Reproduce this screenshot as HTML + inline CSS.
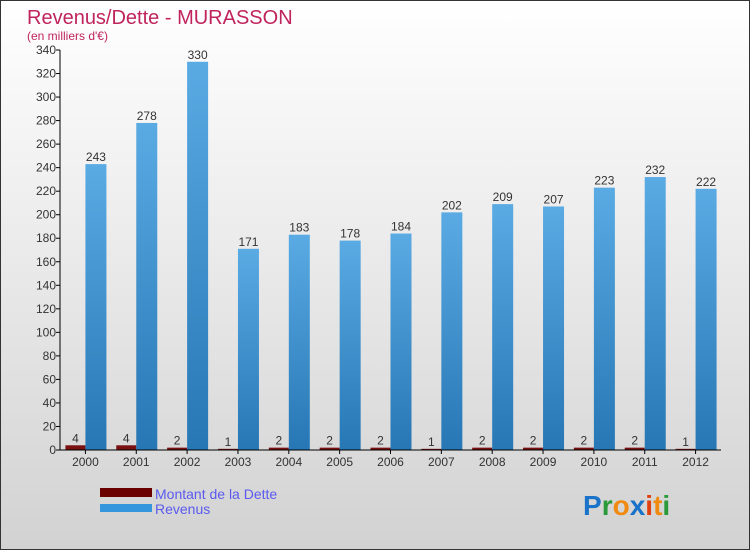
<!DOCTYPE html>
<html><head><meta charset="utf-8"><style>
body{margin:0;width:750px;height:550px;overflow:hidden;font-family:"Liberation Sans",sans-serif}
</style></head><body>
<svg width="750" height="550" xmlns="http://www.w3.org/2000/svg">
<defs>
<linearGradient id="bg" x1="0" y1="0" x2="0" y2="1"><stop offset="0" stop-color="#ffffff"/><stop offset="1" stop-color="#d2d2d2"/></linearGradient>
<linearGradient id="rev" x1="0" y1="0" x2="0" y2="1"><stop offset="0" stop-color="#5aaae4"/><stop offset="1" stop-color="#2677b4"/></linearGradient>
</defs>
<rect x="0.5" y="0.5" width="749" height="549" fill="url(#bg)" stroke="#333"/>
<text x="27" y="24" font-size="20" fill="#c0245c">Revenus/Dette - MURASSON</text>
<text x="27" y="40" font-size="12" fill="#c0245c">(en milliers d'€)</text>
<g id="plot"></g>
<rect x="100" y="488" width="52" height="9" fill="#6b0000"/>
<text x="155" y="499" font-size="14" fill="#5a5af0">Montant de la Dette</text>
<rect x="100" y="504" width="52" height="8" fill="#3595dd"/>
<text x="155" y="514" font-size="14" fill="#5a5af0">Revenus</text>
<text x="583" y="515" font-size="28" font-weight="bold"><tspan fill="#1a73c8">P</tspan><tspan fill="#2a9a3a">r</tspan><tspan fill="#f08a10">o</tspan><tspan fill="#1a73c8">x</tspan><tspan fill="#e04010">i</tspan><tspan fill="#f08a10">t</tspan><tspan fill="#2a9a3a">i</tspan></text>
</svg>
<script>
const years=["2000","2001","2002","2003","2004","2005","2006","2007","2008","2009","2010","2011","2012"];
const dette=[4,4,2,1,2,2,2,1,2,2,2,2,1];
const revenus=[243,278,330,171,183,178,184,202,209,207,223,232,222];
const yTicks=[0,20,40,60,80,100,120,140,160,180,200,220,240,260,280,300,320,340];
const NS="http://www.w3.org/2000/svg";
const g=document.getElementById('plot');
const x0=60,x1=721,y0=450,yTop=50,ymax=340;
const y=v=>y0-(v/ymax)*(y0-yTop);
const bw=(x1-x0)/years.length;
const cx=i=>x0+bw*(i+0.5);
function el(t,a,txt){const e=document.createElementNS(NS,t);for(const k in a)e.setAttribute(k,a[k]);if(txt!==undefined)e.textContent=txt;g.appendChild(e);return e;}
yTicks.forEach(v=>{
 const t=el('line',{x1:x0-4,x2:x0,y1:y(v),y2:y(v),stroke:'#000'});
 
 
 const l=el('text',{x:x0-4,y:y(v)+4,'font-size':12,fill:'#333','text-anchor':'end'},v);
 
 
});
years.forEach((yr,i)=>{
 const c=cx(i);
 const d=el('rect',{x:c-20,y:y(dette[i]),width:20,height:y0-y(dette[i]),fill:'#7a1010'});
 
 
 const dl=el('text',{x:c-10,y:y(dette[i])-3,'font-size':12,fill:'#333','text-anchor':'middle'},dette[i]);
 
 
 const r=el('rect',{x:c,y:y(revenus[i]),width:21,height:y0-y(revenus[i]),fill:'url(#rev)'});
 
 
 const rl=el('text',{x:c+10.5,y:y(revenus[i])-3,'font-size':12,fill:'#333','text-anchor':'middle'},revenus[i]);
 
 
 const tk=el('line',{x1:c,x2:c,y1:y0,y2:y0+4,stroke:'#000'});
 
 
 const xl=el('text',{x:c,y:y0+16,'font-size':12,fill:'#333','text-anchor':'middle'},yr);
 
 
});
const ya=el('line',{x1:x0,x2:x0,y1:yTop,y2:y0,stroke:'#000'});


const xa=el('line',{x1:x0,x2:x1,y1:y0,y2:y0,stroke:'#000'});


</script>
</body></html>
